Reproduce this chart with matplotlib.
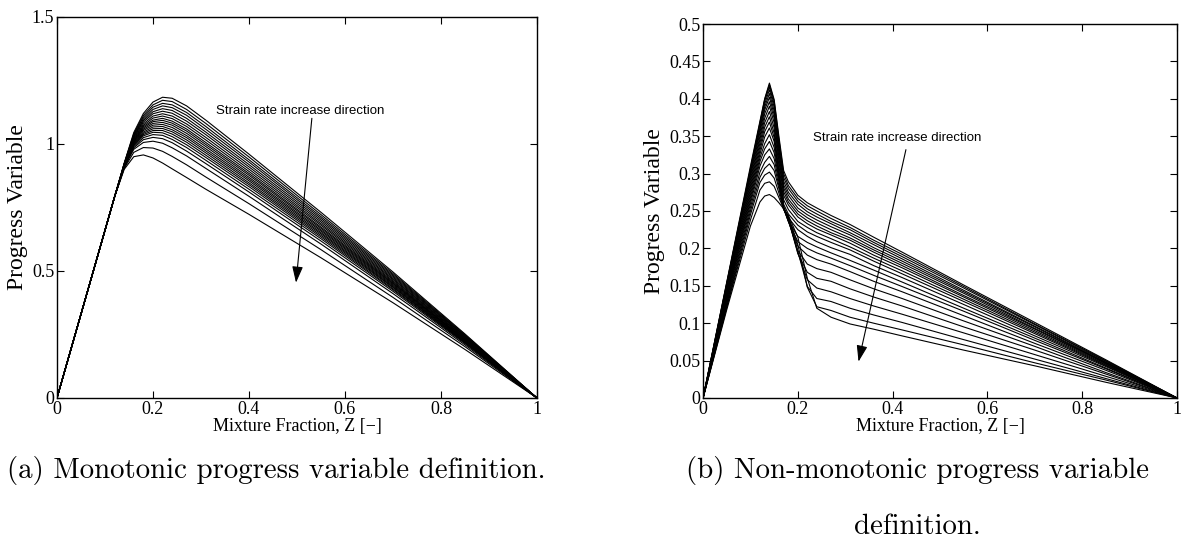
import matplotlib
matplotlib.use('Agg')
import matplotlib.pyplot as plt

# ---- (a) monotonic progress variable: nodes in Z and one row per strain rate
z_mono = [0.0, 0.12, 0.14, 0.16, 0.18, 0.20, 0.22, 0.24, 0.27, 0.31, 0.40, 0.55, 0.70, 0.85, 1.0]
c_mono = [
    [0, 0.792, 0.900, 0.950, 0.957, 0.945, 0.925, 0.902, 0.868, 0.822, 0.723, 0.552, 0.375, 0.191, 0],
    [0, 0.792, 0.904, 0.967, 0.986, 0.984, 0.971, 0.951, 0.918, 0.870, 0.765, 0.584, 0.396, 0.202, 0],
    [0, 0.792, 0.907, 0.979, 1.006, 1.011, 1.003, 0.985, 0.953, 0.904, 0.794, 0.606, 0.411, 0.209, 0],
    [0, 0.792, 0.909, 0.985, 1.017, 1.026, 1.021, 1.005, 0.972, 0.923, 0.811, 0.618, 0.420, 0.214, 0],
    [0, 0.792, 0.910, 0.990, 1.025, 1.037, 1.034, 1.018, 0.986, 0.936, 0.822, 0.627, 0.426, 0.217, 0],
    [0, 0.792, 0.911, 0.994, 1.032, 1.046, 1.044, 1.029, 0.997, 0.947, 0.832, 0.634, 0.430, 0.219, 0],
    [0, 0.792, 0.912, 0.997, 1.037, 1.053, 1.053, 1.039, 1.007, 0.956, 0.840, 0.640, 0.435, 0.221, 0],
    [0, 0.792, 0.913, 1.000, 1.042, 1.060, 1.061, 1.048, 1.016, 0.965, 0.847, 0.646, 0.438, 0.223, 0],
    [0, 0.792, 0.913, 1.003, 1.047, 1.067, 1.069, 1.056, 1.025, 0.973, 0.855, 0.651, 0.442, 0.225, 0],
    [0, 0.792, 0.914, 1.006, 1.053, 1.074, 1.077, 1.065, 1.033, 0.981, 0.862, 0.657, 0.446, 0.227, 0],
    [0, 0.792, 0.915, 1.009, 1.058, 1.081, 1.085, 1.074, 1.042, 0.990, 0.869, 0.662, 0.450, 0.229, 0],
    [0, 0.792, 0.916, 1.012, 1.063, 1.088, 1.093, 1.082, 1.051, 0.998, 0.877, 0.668, 0.453, 0.231, 0],
    [0, 0.792, 0.916, 1.014, 1.068, 1.094, 1.101, 1.090, 1.059, 1.006, 0.884, 0.673, 0.457, 0.232, 0],
    [0, 0.792, 0.917, 1.018, 1.073, 1.102, 1.110, 1.100, 1.069, 1.016, 0.892, 0.680, 0.461, 0.235, 0],
    [0, 0.792, 0.918, 1.021, 1.079, 1.110, 1.119, 1.110, 1.079, 1.026, 0.901, 0.686, 0.466, 0.237, 0],
    [0, 0.792, 0.919, 1.025, 1.086, 1.119, 1.129, 1.121, 1.090, 1.037, 0.910, 0.693, 0.470, 0.239, 0],
    [0, 0.792, 0.920, 1.029, 1.092, 1.127, 1.139, 1.132, 1.101, 1.047, 0.919, 0.700, 0.475, 0.242, 0],
    [0, 0.792, 0.921, 1.032, 1.098, 1.136, 1.150, 1.143, 1.113, 1.058, 0.929, 0.707, 0.480, 0.244, 0],
    [0, 0.792, 0.922, 1.036, 1.105, 1.145, 1.160, 1.154, 1.124, 1.069, 0.938, 0.714, 0.485, 0.246, 0],
    [0, 0.792, 0.923, 1.040, 1.112, 1.154, 1.172, 1.167, 1.136, 1.081, 0.949, 0.722, 0.490, 0.249, 0],
    [0, 0.792, 0.924, 1.045, 1.120, 1.165, 1.184, 1.180, 1.150, 1.094, 0.960, 0.731, 0.496, 0.252, 0],
]

# ---- (b) non-monotonic progress variable
z_nonmono = [0.0, 0.05, 0.10, 0.12, 0.13, 0.14, 0.15, 0.16, 0.17, 0.18, 0.20,
             0.22, 0.24, 0.27, 0.31, 0.36, 0.42, 0.55, 0.70, 0.85, 1.0]
c_nonmono = [
    [0, .155, .310, .370, .400, .421, .399, .350, .304, .289, .271, .261, .254, .244, .232, .215, .195, .151, .101, .051, 0],
    [0, .154, .307, .368, .399, .419, .397, .346, .300, .284, .267, .257, .250, .240, .228, .211, .192, .149, .099, .050, 0],
    [0, .153, .305, .366, .397, .416, .393, .342, .295, .280, .263, .253, .246, .236, .225, .208, .189, .147, .098, .049, 0],
    [0, .151, .302, .362, .393, .412, .389, .337, .290, .275, .259, .249, .242, .233, .221, .205, .186, .144, .096, .048, 0],
    [0, .150, .299, .359, .389, .407, .384, .332, .285, .271, .254, .245, .238, .229, .218, .201, .183, .142, .095, .047, 0],
    [0, .148, .296, .355, .385, .402, .379, .328, .281, .266, .250, .241, .234, .225, .214, .198, .180, .140, .093, .047, 0],
    [0, .146, .292, .350, .380, .396, .374, .322, .276, .262, .246, .237, .230, .221, .211, .195, .177, .137, .092, .046, 0],
    [0, .144, .288, .346, .374, .390, .368, .317, .271, .258, .242, .233, .226, .218, .207, .191, .174, .135, .090, .045, 0],
    [0, .142, .284, .341, .368, .383, .361, .311, .265, .252, .236, .228, .221, .213, .202, .187, .170, .132, .088, .044, 0],
    [0, .140, .280, .336, .362, .376, .354, .304, .259, .246, .231, .222, .216, .208, .198, .183, .166, .129, .086, .043, 0],
    [0, .138, .276, .331, .356, .369, .348, .300, .256, .241, .225, .216, .209, .201, .192, .177, .161, .125, .083, .042, 0],
    [0, .136, .272, .326, .349, .361, .343, .300, .254, .237, .216, .208, .202, .194, .184, .171, .155, .120, .080, .040, 0],
    [0, .134, .268, .321, .340, .352, .335, .296, .253, .236, .209, .200, .194, .187, .177, .164, .149, .116, .077, .039, 0],
    [0, .132, .264, .316, .333, .343, .328, .293, .254, .236, .203, .191, .185, .179, .169, .156, .142, .110, .073, .037, 0],
    [0, .130, .260, .310, .325, .333, .320, .289, .254, .237, .197, .179, .173, .168, .158, .146, .133, .103, .069, .034, 0],
    [0, .127, .255, .302, .315, .323, .312, .284, .254, .239, .193, .168, .160, .156, .146, .135, .123, .095, .064, .032, 0],
    [0, .125, .250, .295, .307, .313, .304, .280, .253, .240, .194, .158, .147, .142, .133, .123, .112, .087, .058, .029, 0],
    [0, .122, .245, .288, .298, .302, .294, .274, .252, .241, .196, .149, .133, .129, .120, .111, .101, .078, .052, .026, 0],
    [0, .121, .238, .278, .287, .289, .283, .268, .253, .243, .205, .148, .122, .117, .108, .100, .091, .071, .047, .024, 0],
    [0, .118, .230, .262, .270, .272, .268, .261, .253, .244, .215, .160, .120, .108, .099, .092, .083, .064, .043, .021, 0],
]

x_ticks = [0, 0.2, 0.4, 0.6, 0.8, 1]
x_ticklabels = ['0', '0.2', '0.4', '0.6', '0.8', '1']
y_ticks_a = [0, 0.5, 1, 1.5]
y_ticklabels_a = ['0', '0.5', '1', '1.5']
y_ticks_b = [0, 0.05, 0.1, 0.15, 0.2, 0.25, 0.3, 0.35, 0.4, 0.45, 0.5]
y_ticklabels_b = ['0', '0.05', '0.1', '0.15', '0.2', '0.25', '0.3', '0.35', '0.4', '0.45', '0.5']

note = 'Strain rate increase direction'
caption_a = '(a) Monotonic progress variable definition.'
caption_b = ['(b) Non-monotonic progress variable', 'definition.']

plt.rcParams['font.family'] = ['Liberation Serif', 'DejaVu Serif']
plt.rcParams['axes.linewidth'] = 1.0


def style_axes(ax, yticks, yticklabels, ymax):
    ax.set_xlim(0, 1)
    ax.set_ylim(0, ymax)
    ax.set_xticks(x_ticks)
    ax.set_xticklabels(x_ticklabels)
    ax.set_yticks(yticks)
    ax.set_yticklabels(yticklabels)
    ax.tick_params(direction='in', top=True, right=True, length=5, width=0.8,
                   labelsize=13, pad=2)
    ax.set_xlabel('Mixture Fraction, Z [\u2212]', fontsize=13, labelpad=0)
    ax.set_ylabel('Progress Variable', fontsize=17, labelpad=3)


def draw_arrow(ax, start, tip):
    ax.annotate('', xy=tip, xytext=start,
                arrowprops=dict(arrowstyle='-|>,head_length=0.9,head_width=0.3',
                                color='k', lw=0.8, mutation_scale=11,
                                shrinkA=0, shrinkB=0))


fig = plt.figure(figsize=(11.82, 5.53), dpi=100)
ax_a = fig.add_axes([0.0482, 0.2803, 0.4061, 0.689])
ax_b = fig.add_axes([0.5948, 0.2803, 0.4010, 0.6763])

for row in c_mono:
    ax_a.plot(z_mono, row, color='k', lw=0.8)
style_axes(ax_a, y_ticks_a, y_ticklabels_a, 1.5)
ax_a.text(0.331, 1.13, note, fontsize=9.5, family='Liberation Sans', va='center', ha='left')
draw_arrow(ax_a, (0.531, 1.101), (0.498, 0.454))

for row in c_nonmono:
    ax_b.plot(z_nonmono, row, color='k', lw=0.8)
style_axes(ax_b, y_ticks_b, y_ticklabels_b, 0.5)
ax_b.text(0.231, 0.347, note, fontsize=9.5, family='Liberation Sans', va='center', ha='left')
draw_arrow(ax_b, (0.428, 0.332), (0.328, 0.0486))

cap = dict(ha='center', va='center', fontsize=20.8, family=['cmr10', 'DejaVu Serif'])
fig.text(0.234, 0.150, caption_a, **cap)
fig.text(0.776, 0.150, caption_b[0], **cap)
fig.text(0.776, 0.047, caption_b[1], **cap)

fig.savefig('out.png', dpi=100)
